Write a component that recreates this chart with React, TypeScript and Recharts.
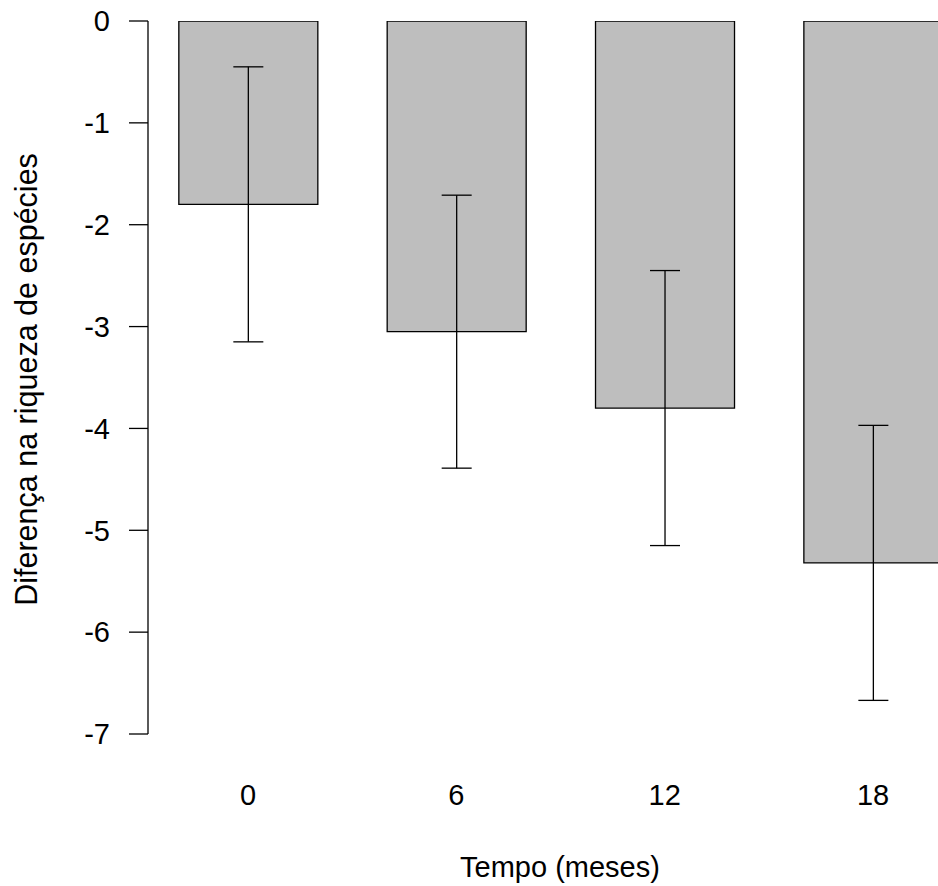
import { BarChart, Bar, XAxis, YAxis, ErrorBar, Label } from 'recharts';

const categories = ['0', '6', '12', '18'];
const means = [-1.8, -3.05, -3.8, -5.32];
const errors = [1.35, 1.34, 1.35, 1.35];
const yTicks = [0, -1, -2, -3, -4, -5, -6, -7];

const xLabel = 'Tempo (meses)';
const yLabel = 'Diferença na riqueza de espécies';

const data = categories.map((label, i) => ({
  pos: i,
  label,
  value: means[i],
  err: errors[i],
}));

const FONT = '"Liberation Sans", Arial, sans-serif';

function YTitle(props: any) {
  const vb = props.viewBox || { x: 0, y: 21, width: 148, height: 713 };
  const cx = 26;
  const cy = vb.y + vb.height / 2 + 2;
  return (
    <text
      x={cx}
      y={cy}
      transform={`rotate(-90, ${cx}, ${cy})`}
      textAnchor="middle"
      dominantBaseline="central"
      fontSize={30.5}
      fill="#000"
    >
      {yLabel}
    </text>
  );
}

export default function App() {
  return (
    <div
      style={{
        position: 'absolute',
        left: 0,
        top: 0,
        width: 938,
        height: 886,
        overflow: 'hidden',
        background: '#fff',
        fontFamily: FONT,
      }}
    >
      <BarChart
        width={978}
        height={886}
        data={data}
        margin={{ top: 21, right: 6, bottom: 0, left: 0 }}
      >
        <XAxis
          type="number"
          dataKey="pos"
          domain={[-0.48, 3.475]}
          ticks={[0, 1, 2, 3]}
          tickFormatter={(i: number) => categories[i] ?? ''}
          axisLine={false}
          tickLine={false}
          tickSize={0}
          tickMargin={50}
          height={152}
          tick={{ fontSize: 29, fill: '#000' }}
          allowDataOverflow
        >
          <Label value={xLabel} position="insideBottom" offset={9} fontSize={29} fill="#000" />
        </XAxis>
        <YAxis
          type="number"
          domain={[-7, 0]}
          ticks={yTicks}
          width={148}
          tickSize={19}
          tickMargin={19}
          axisLine={{ stroke: '#000', strokeWidth: 1.3 }}
          tickLine={{ stroke: '#000', strokeWidth: 1.3 }}
          tick={{ fontSize: 29, fill: '#000' }}
          allowDataOverflow
        >
          <Label content={YTitle} />
        </YAxis>
        <Bar
          dataKey="value"
          fill="#bebebe"
          stroke="#000"
          strokeWidth={1.3}
          barSize={139}
          isAnimationActive={false}
        >
          <ErrorBar dataKey="err" direction="y" width={15} stroke="#000" strokeWidth={1.3} />
        </Bar>
      </BarChart>
    </div>
  );
}
